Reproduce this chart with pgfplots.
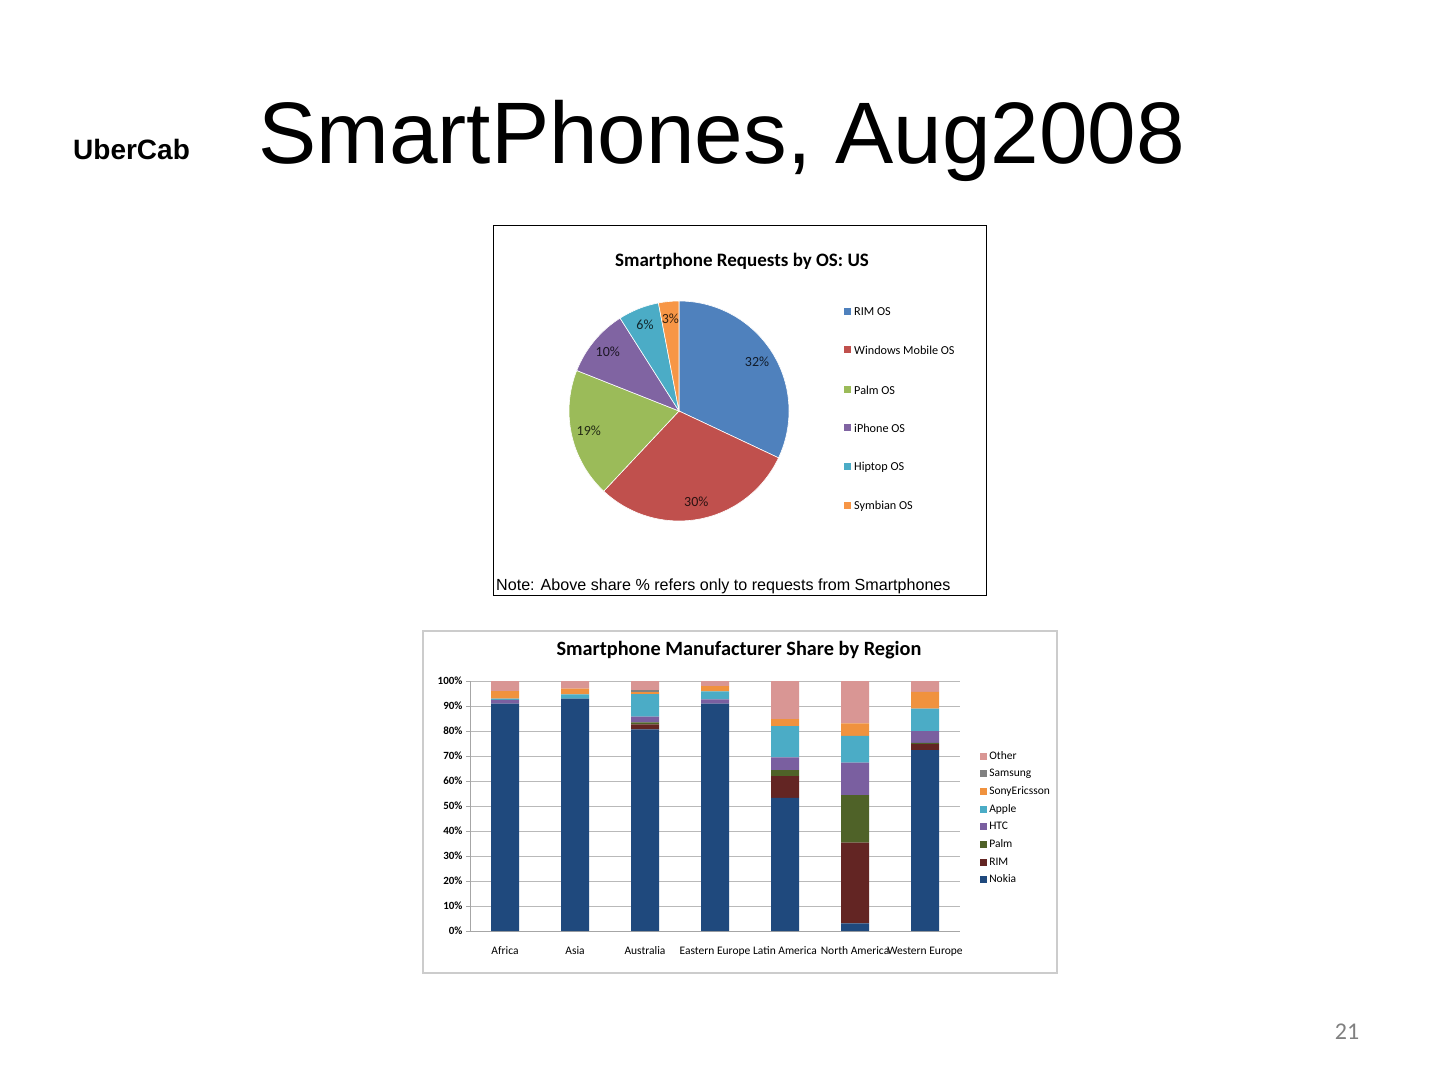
\documentclass[border=0pt]{standalone}
\usepackage{pgfplots}
\pgfplotsset{compat=1.18}
\usepackage{pgfplotstable}
\usepackage{fontspec}
\setmainfont{Carlito}
\newfontfamily\arialf{Liberation Sans}
\definecolor{rimc}{HTML}{4F81BD}
\definecolor{winc}{HTML}{C0504D}
\definecolor{palmc}{HTML}{9BBB59}
\definecolor{iphc}{HTML}{8064A2}
\definecolor{hipc}{HTML}{4BACC6}
\definecolor{symc}{HTML}{F79646}
\definecolor{nokiab}{HTML}{1F497D}
\definecolor{rimb}{HTML}{632523}
\definecolor{palmb}{HTML}{4F6228}
\definecolor{htcb}{HTML}{7A5FA0}
\definecolor{appleb}{HTML}{4BACC6}
\definecolor{seb}{HTML}{F0923E}
\definecolor{samb}{HTML}{808080}
\definecolor{othb}{HTML}{D99694}
\newcommand\fs[1]{\fontsize{#1}{#1}\selectfont}
\tikzset{pielab/.style={font=\fs{14}}}

\pgfplotstableread{
x Nokia RIM Palm HTC Apple SE Samsung Other
0 91.0 0.0 0.0 1.5 0.5 3.0 0.0 4.0
1 93.0 0.0 0.0 0.0 1.7 2.3 0.0 3.0
2 80.7 2.0 0.8 2.3 9.0 0.8 0.8 3.6
3 91.0 0.0 0.0 1.7 3.2 2.1 0.0 2.0
4 53.3 8.7 2.4 5.1 12.5 2.8 0.0 15.2
5 3.1 32.3 19.0 13.0 10.7 5.0 0.0 16.9
6 72.4 2.4 0.5 4.7 9.0 6.7 0.0 4.3
}\bardata

% pie slice: cumulative start %, cumulative end %, colour, label
\newcommand\pieslice[4]{%
  \pgfmathsetmacro\sa{90-3.6*#1}%
  \pgfmathsetmacro\ea{90-3.6*#2}%
  \pgfmathsetmacro\ma{(\sa+\ea)/2}%
  \edef\temp{\noexpand\fill[#3,draw=white,line width=0.6pt] (axis cs:0,0) -- (axis cs:{cos(\sa)},{sin(\sa)}) arc[start angle=\sa, end angle=\ea, radius=110pt] -- cycle;
  \noexpand\node[pielab,text=#3!22!black] at (axis cs:{0.84*cos(\ma)},{0.84*sin(\ma)}) {#4};}%
  \temp
}

\begin{document}
\begin{tikzpicture}[x=1pt,y=1pt]
\fill[white] (0pt,0pt) rectangle (1440pt,1080pt);
% header
\node[anchor=base west, inner sep=0] at (73pt,920pt) {\arialf\bfseries\fs{28}UberCab};
\node[anchor=base west, inner sep=0] at (258pt,916pt) {\arialf\fs{87.3}SmartPhones, Aug2008};
\node[anchor=base, inner sep=0, text=gray] at (1347pt,41pt) {\fs{24}21};

% pie box
\draw[black, line width=0.8pt] (493pt,485pt) rectangle (986pt,855pt);
\node[font=\bfseries\fs{19}] at (742pt,819pt) {Smartphone Requests by OS: US};
\node[anchor=base west, inner sep=0] at (496pt,489pt) {\arialf\fs{16.1}Note: Above share \% refers only to requests from Smartphones};

\begin{axis}[at={(679pt,669pt)}, anchor=origin, x=110pt, y=110pt,
  xmin=-1, xmax=1, ymin=-1, ymax=1, hide axis, clip=false]
  \pieslice{0}{32}{rimc}{32\%}
  \pieslice{32}{62}{winc}{30\%}
  \pieslice{62}{81}{palmc}{19\%}
  \pieslice{81}{91}{iphc}{10\%}
  \pieslice{91}{97}{hipc}{6\%}
  \pieslice{97}{100}{symc}{3\%}
\end{axis}

% pie legend
\foreach \yy/\cc/\tt in {768/rimc/RIM OS, 730/winc/Windows Mobile OS, 690/palmc/Palm OS, 652/iphc/iPhone OS, 613/hipc/Hiptop OS, 574/symc/Symbian OS}{
  \fill[\cc] (844pt,\yy pt-3.5pt) rectangle (851pt,\yy pt+3.5pt);
  \node[anchor=west, inner sep=0, font=\fs{12.2}] at (854pt,\yy pt) {\tt};
}

% bar box
\draw[gray!40, line width=1.2pt] (423pt,107pt) rectangle (1057pt,449pt);
\node[font=\bfseries\fs{20.3}] at (739pt,430pt) {Smartphone Manufacturer Share by Region};

\begin{axis}[at={(470pt,149pt)}, anchor=south west, scale only axis,
  width=490pt, height=250pt,
  ybar stacked, bar width=28pt,
  xmin=-0.5, xmax=6.5, ymin=0, ymax=100,
  xtick={0,...,6},
  xticklabels={Africa,Asia,Australia,Eastern Europe,Latin America,North America,Western Europe},
  x tick label style={font=\fs{11.5}, text height=8pt, text depth=2pt, yshift=-8pt},
  major x tick style={draw=none},
  extra x ticks={-0.5,0.5,...,6.5},
  extra x tick labels={},
  extra x tick style={grid=none, major tick style={draw=gray!70}, major tick length=4pt},
  ytick={0,10,...,100},
  /pgf/number format/assume math mode=true,
  yticklabel={\pgfmathprintnumber{\tick}\%},
  y tick label style={font=\bfseries\fs{11}},
  major y tick style={draw=gray!70}, major tick length=4pt,
  tick align=outside,
  ymajorgrids, grid style={gray!55, line width=0.6pt},
  axis x line*=bottom, axis y line*=left,
  axis line style={gray!70},
  reverse legend,
  legend style={draw=none, fill=none, font=\fs{11.5}, at={(1.041,0.727)}, anchor=north west,
    row sep=4.4pt, inner sep=0pt, cells={anchor=west}},
  legend image code/.code={\fill[#1] (0pt,-3.5pt) rectangle (7pt,3.5pt);},
]
\addplot[fill=nokiab, draw=none] table[x=x,y=Nokia]{\bardata};
\addplot[fill=rimb, draw=none] table[x=x,y=RIM]{\bardata};
\addplot[fill=palmb, draw=none] table[x=x,y=Palm]{\bardata};
\addplot[fill=htcb, draw=none] table[x=x,y=HTC]{\bardata};
\addplot[fill=appleb, draw=none] table[x=x,y=Apple]{\bardata};
\addplot[fill=seb, draw=none] table[x=x,y=SE]{\bardata};
\addplot[fill=samb, draw=none] table[x=x,y=Samsung]{\bardata};
\addplot[fill=othb, draw=none] table[x=x,y=Other]{\bardata};
\legend{Nokia,RIM,Palm,HTC,Apple,SonyEricsson,Samsung,Other}
\end{axis}
\end{tikzpicture}
\end{document}
